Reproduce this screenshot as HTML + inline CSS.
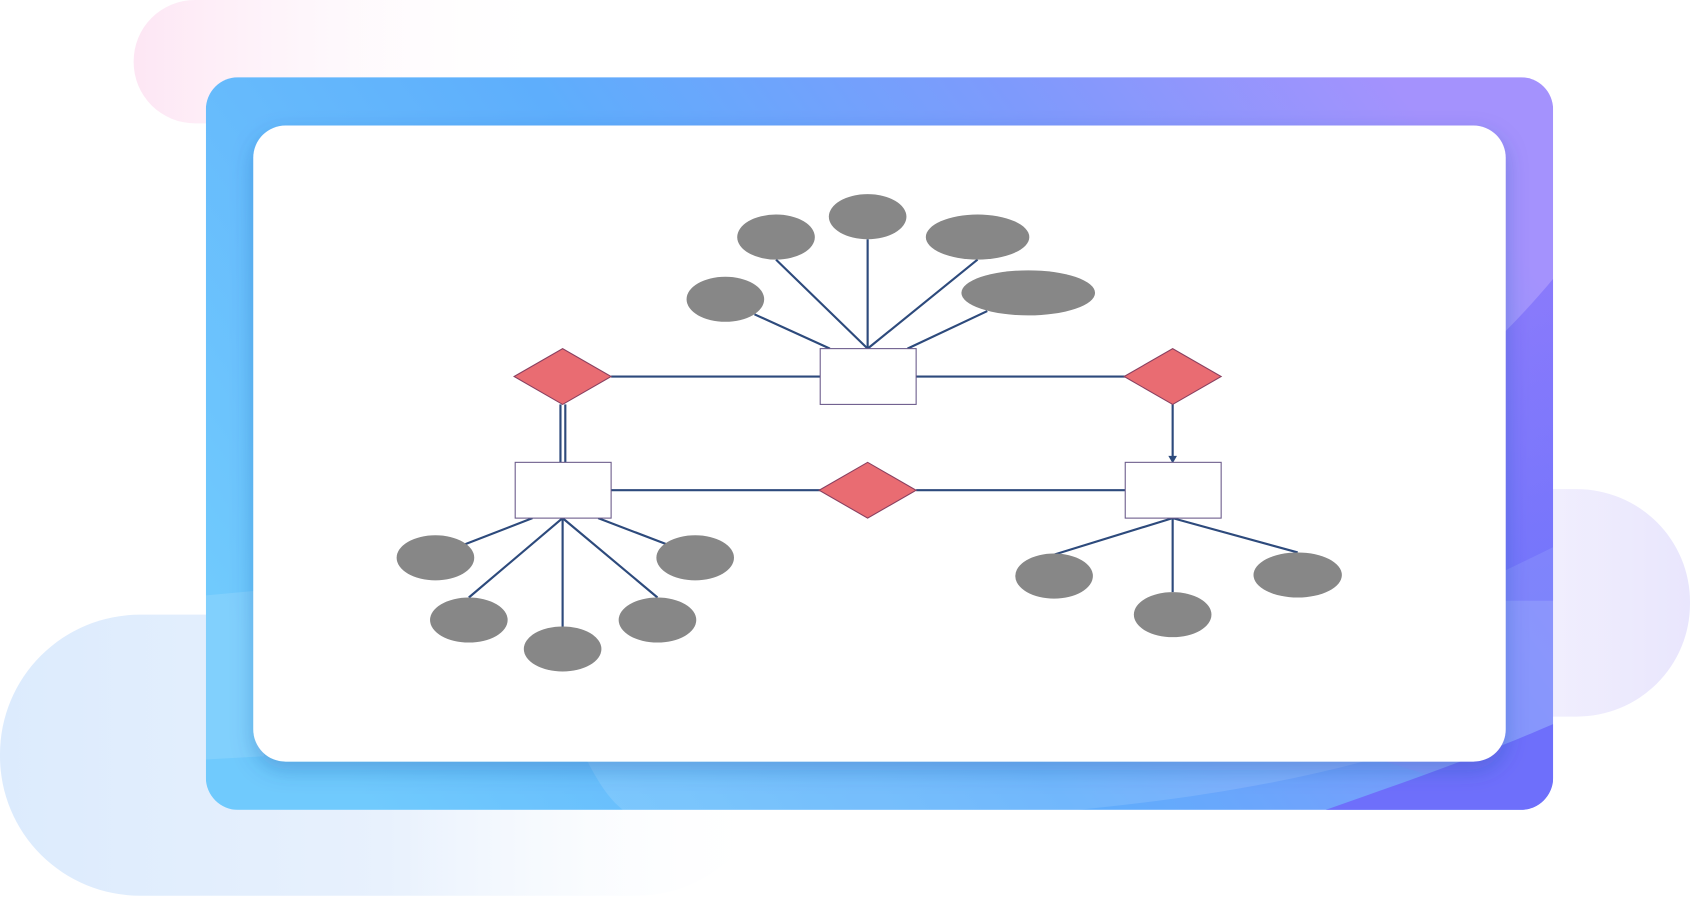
<!DOCTYPE html>
<html><head><meta charset="utf-8"><style>
html,body{margin:0;padding:0;background:#fff;width:1690px;height:900px;overflow:hidden}
svg{display:block}
</style></head><body>
<svg width="1690" height="900" viewBox="0 0 1568 839" preserveAspectRatio="none" xmlns="http://www.w3.org/2000/svg">
<defs>
<linearGradient id="pink" x1="0" x2="1" y1="0" y2="0"><stop offset="0" stop-color="#fde6f4"/><stop offset="1" stop-color="#fff" stop-opacity="0"/></linearGradient>
<linearGradient id="lblue" x1="0" x2="1" y1="0" y2="0"><stop offset="0" stop-color="#dcebfd"/><stop offset="0.5" stop-color="#e8f1fd"/><stop offset="1" stop-color="#fff" stop-opacity="0"/></linearGradient>
<linearGradient id="lpur" x1="0" x2="1" y1="0" y2="0"><stop offset="0" stop-color="#f8f7fe"/><stop offset="1" stop-color="#e9e6fd"/></linearGradient>
<linearGradient id="main" x1="0" y1="0.7" x2="1" y2="0.3"><stop offset="0" stop-color="#70cafd"/><stop offset="0.45" stop-color="#5eaefc"/><stop offset="0.75" stop-color="#7e9afc"/><stop offset="1" stop-color="#a492fd"/></linearGradient>
<linearGradient id="br" x1="0" y1="0" x2="1" y2="1"><stop offset="0" stop-color="#9a7cfb"/><stop offset="1" stop-color="#6c6cfb"/></linearGradient>
<filter id="sh" x="-10%" y="-10%" width="120%" height="130%"><feDropShadow dx="0" dy="8" stdDeviation="10" flood-color="#2050a0" flood-opacity="0.3"/></filter>
<clipPath id="cc"><rect x="191" y="72" width="1250" height="683" rx="30"/></clipPath>
</defs>
<rect x="124" y="0" width="400" height="115" rx="57" fill="url(#pink)"/>
<rect x="0" y="573" width="720" height="262" rx="130" fill="url(#lblue)"/>
<rect x="1300" y="456" width="268" height="212" rx="105" fill="url(#lpur)"/>
<g clip-path="url(#cc)">
<rect x="191" y="72" width="1250" height="683" fill="url(#main)"/>
<path d="M1441 260 C1300 430 1100 520 900 560 L1441 560 Z" fill="url(#br)" opacity="0.8"/>
<path d="M1441 510 C1300 580 1200 620 1100 650 L1441 760 Z" fill="#8a94fb" opacity="0.5"/>
<path d="M1441 675 C1360 710 1300 730 1230 755 L1441 755 Z" fill="#6e6ffb"/>
<path d="M191 555 L245 550 L245 705 L191 708 Z" fill="#fff" opacity="0.12"/>
<path d="M540 700 C555 730 565 745 578 755 L1000 755 C1100 745 1200 730 1300 700 Z" fill="#fff" opacity="0.12"/>
</g>
<rect x="235" y="117" width="1162" height="593" rx="30" fill="#fff" filter="url(#sh)"/>
<g stroke="#2d4a7c" stroke-width="2" fill="none">
<line x1="567" y1="351" x2="761" y2="351"/><line x1="850" y1="351" x2="1044" y2="351"/>
<line x1="567" y1="457" x2="761" y2="457"/><line x1="850" y1="457" x2="1044" y2="457"/>
<line x1="520" y1="377" x2="520" y2="431"/><line x1="524.5" y1="377" x2="524.5" y2="431"/>
<line x1="1088" y1="377" x2="1088" y2="426"/>
<line x1="805" y1="325" x2="720" y2="242"/><line x1="805" y1="325" x2="805" y2="223"/><line x1="805" y1="325" x2="907" y2="242"/>
<line x1="770" y1="325" x2="700" y2="293"/><line x1="842" y1="325" x2="916" y2="290"/>
<line x1="494" y1="483" x2="430" y2="508"/><line x1="522" y1="483" x2="435" y2="557"/><line x1="522" y1="483" x2="522" y2="584"/>
<line x1="522" y1="483" x2="610" y2="557"/><line x1="555" y1="483" x2="620" y2="508"/>
<line x1="1088" y1="483" x2="978" y2="517"/><line x1="1088" y1="483" x2="1088" y2="552"/><line x1="1088" y1="483" x2="1204" y2="515"/>
</g>
<path d="M1084 425 L1092 425 L1088 432 Z" fill="#2d4a7c"/>
<g fill="#878787">
<ellipse cx="720" cy="221" rx="36" ry="21"/><ellipse cx="805" cy="202" rx="36" ry="21"/>
<ellipse cx="907" cy="221" rx="48" ry="21"/><ellipse cx="954" cy="273" rx="62" ry="21"/>
<ellipse cx="673" cy="279" rx="36" ry="21"/>
<ellipse cx="404" cy="520" rx="36" ry="21"/><ellipse cx="435" cy="578" rx="36" ry="21"/>
<ellipse cx="522" cy="605" rx="36" ry="21"/><ellipse cx="610" cy="578" rx="36" ry="21"/>
<ellipse cx="645" cy="520" rx="36" ry="21"/>
<ellipse cx="978" cy="537" rx="36" ry="21"/><ellipse cx="1088" cy="573" rx="36" ry="21"/>
<ellipse cx="1204" cy="536" rx="41" ry="21"/>
</g>
<g fill="#fff" stroke="#6a5a8a" stroke-width="1">
<rect x="761" y="325" width="89" height="52"/><rect x="478" y="431" width="89" height="52"/><rect x="1044" y="431" width="89" height="52"/>
</g>
<g fill="#e96c72" stroke="#8a4060" stroke-width="1">
<path d="M477 351 L522 325 L567 351 L522 377 Z"/>
<path d="M1043 351 L1088 325 L1133 351 L1088 377 Z"/>
<path d="M760 457 L805 431 L850 457 L805 483 Z"/>
</g>
</svg>
</body></html>
